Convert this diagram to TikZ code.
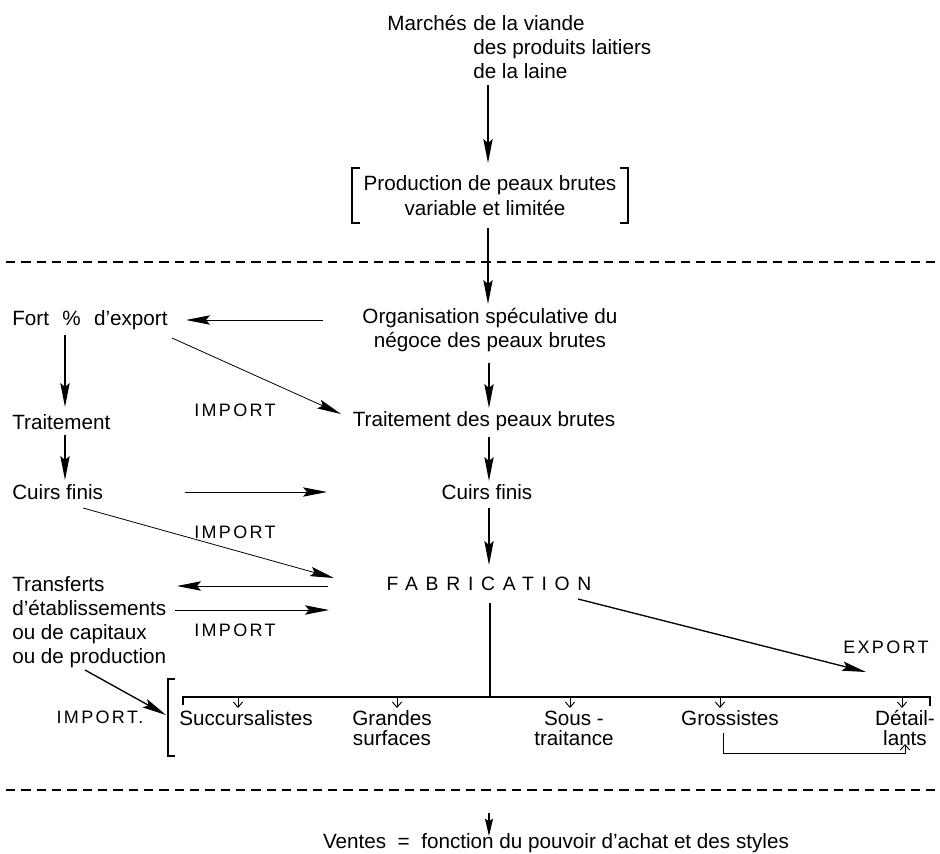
\documentclass[tikz,border=0pt]{standalone}
\usepackage{fontspec}
\setmainfont{Liberation Sans}
\usetikzlibrary{arrows.meta}
\begin{document}
\begin{tikzpicture}[x=0.75pt,y=-0.75pt,
  txt/.style={inner sep=0pt, font=\fontsize{15.5}{18}\selectfont, align=center},
  txtw/.style={txt, anchor=west, align=left},
  pair/.style={inner sep=0pt, font=\fontsize{15.5}{15}\selectfont, align=center},
  caps/.style={inner sep=0pt, font=\fontsize{13.5}{16}\selectfont\addfontfeature{LetterSpace=13}},
  fab/.style={inner sep=0pt, font=\fontsize{14.5}{16}\selectfont\addfontfeature{LetterSpace=40}},
  arr/.style={line width=1pt, -{Stealth[length=18pt,width=7pt,inset=3pt]}},
  thinarr/.style={line width=0.6pt, -{Stealth[length=18pt,width=7pt,inset=3pt]}},
  smallarr/.style={line width=1pt, -{Stealth[length=13pt,width=6pt,inset=2pt]}},
  tick/.style={line width=0.7pt, -{Straight Barb[length=4pt,width=7pt]}},
  brack/.style={line width=0.8pt},
  sep/.style={line width=0.8pt, dash pattern=on 7pt off 4.5pt},
  plain/.style={line width=0.8pt},
]
\useasboundingbox (0,0) rectangle (940,854);

% --- upper part: markets and raw hide production
\node[txt, anchor=east] (marches) at (467,23) {Marchés};
\node[txtw] (marchesl) at (473,47) {de la viande\\des produits laitiers\\de la laine};
\node[txt] (prod1) at (490,185) {Production de peaux brutes};
\node[txt] (prod2) at (485,208) {variable et limitée};
\draw[brack] (360,168) -- (352,168) -- (352,223) -- (360,223);
\draw[brack] (620,168) -- (628,168) -- (628,223) -- (620,223);

\coordinate (m1) at (488,85);
\coordinate (m2) at (488,163);
\draw[arr] (m1) -- (m2);

% separation lines
\coordinate (d1a) at (6,262);
\coordinate (d1b) at (940,262);
\draw[sep] (d1a) -- (d1b);
\coordinate (d2a) at (6,790);
\coordinate (d2b) at (940,790);
\draw[sep] (d2a) -- (d2b);

% --- central chain
\node[txt] (orga) at (490,330) {Organisation spéculative du\\négoce des peaux brutes};
\node[txt] (trait) at (484,421) {Traitement des peaux brutes};
\node[txt] (cuirs) at (487,492) {Cuirs finis};
\node[fab] (fab) at (489,584) {FABRICATION};

\coordinate (p1) at (488,228);
\coordinate (p2) at (488,304);
\draw[arr] (p1) -- (p2);
\coordinate (o1) at (489,363);
\coordinate (o2) at (489,408);
\draw[arr] (o1) -- (o2);
\coordinate (t1) at (489,437);
\coordinate (t2) at (489,481);
\draw[arr] (t1) -- (t2);
\coordinate (c1) at (489,508);
\coordinate (c2) at (489,565);
\draw[arr] (c1) -- (c2);

% --- left column
\node[txtw] (fort) at (12,320) {Fort\hspace{10pt}\%\hspace{10pt}d’export};
\node[txtw] (traitl) at (12,422) {Traitement};
\node[txtw] (cuirsl) at (12,492) {Cuirs finis};
\node[txtw] (transf) at (12,622) {Transferts\\d’établissements\\ou de capitaux\\ou de production};
\node[caps] (imp1) at (235,410) {IMPORT};
\node[caps] (imp2) at (235,532) {IMPORT};
\node[caps] (imp3) at (235,630) {IMPORT};
\node[caps] (imp4) at (100,717) {IMPORT.};

\coordinate (f1) at (323,320);
\coordinate (f2) at (186,320);
\draw[thinarr] (f1) -- (f2);
\coordinate (f3) at (172,338);
\coordinate (f4) at (341,414);
\draw[thinarr] (f3) -- (f4);
\coordinate (l1) at (65,335);
\coordinate (l2) at (65,407);
\draw[arr] (l1) -- (l2);
\coordinate (l3) at (65,435);
\coordinate (l4) at (65,480);
\draw[arr] (l3) -- (l4);
\coordinate (k1) at (185,492);
\coordinate (k2) at (327,492);
\draw[thinarr] (k1) -- (k2);
\coordinate (k3) at (83,508);
\coordinate (k4) at (334,578);
\draw[thinarr] (k3) -- (k4);
\coordinate (r1) at (328,586);
\coordinate (r2) at (177,586);
\draw[thinarr] (r1) -- (r2);
\coordinate (r3) at (175,610);
\coordinate (r4) at (329,610);
\draw[thinarr] (r3) -- (r4);
\coordinate (r5) at (85,670);
\coordinate (r6) at (166,715);
\draw[arr] (r5) -- (r6);

% --- export
\node[caps] (exp) at (886,647) {EXPORT};
\coordinate (e1) at (578,599);
\coordinate (e2) at (866,672);
\draw[arr] (e1) -- (e2);

% --- distribution channels
\draw[brack] (175,679) -- (168,679) -- (168,756) -- (175,756);
\coordinate (v1) at (490,603);
\coordinate (v2) at (490,697);
\draw[plain] (v1) -- (v2);
\draw[plain] (183,705) -- (183,697) -- (930,697) -- (930,706);

\node[txt] (succ) at (246,718) {Succursalistes};
\node[pair] (grandes) at (392,728) {Grandes\\surfaces};
\node[pair] (sous) at (574,728) {Sous -\\traitance};
\node[txt] (gross) at (730,718) {Grossistes};
\node[pair] (detail) at (905,728) {Détail-\\lants};

\foreach \xx/\nm in {238/succ,397/grandes,570/sous,720/gross,902/detail}
  \draw[tick] (\xx,697) -- (\xx,708);

\coordinate (g1) at (723,733);
\coordinate (g2) at (905,744);
\draw[line width=0.7pt, -{Straight Barb[length=4pt,width=7pt]}] (g1) -- (723,753) -- (905,753) -- (g2);

% --- sales
\node[txt] (ventes) at (556,843) {Ventes \ =\ \ fonction du pouvoir d’achat et des styles};
\coordinate (s1) at (489,813);
\coordinate (s2) at (489,836);
\draw[smallarr] (s1) -- (s2);
\end{tikzpicture}
\end{document}
